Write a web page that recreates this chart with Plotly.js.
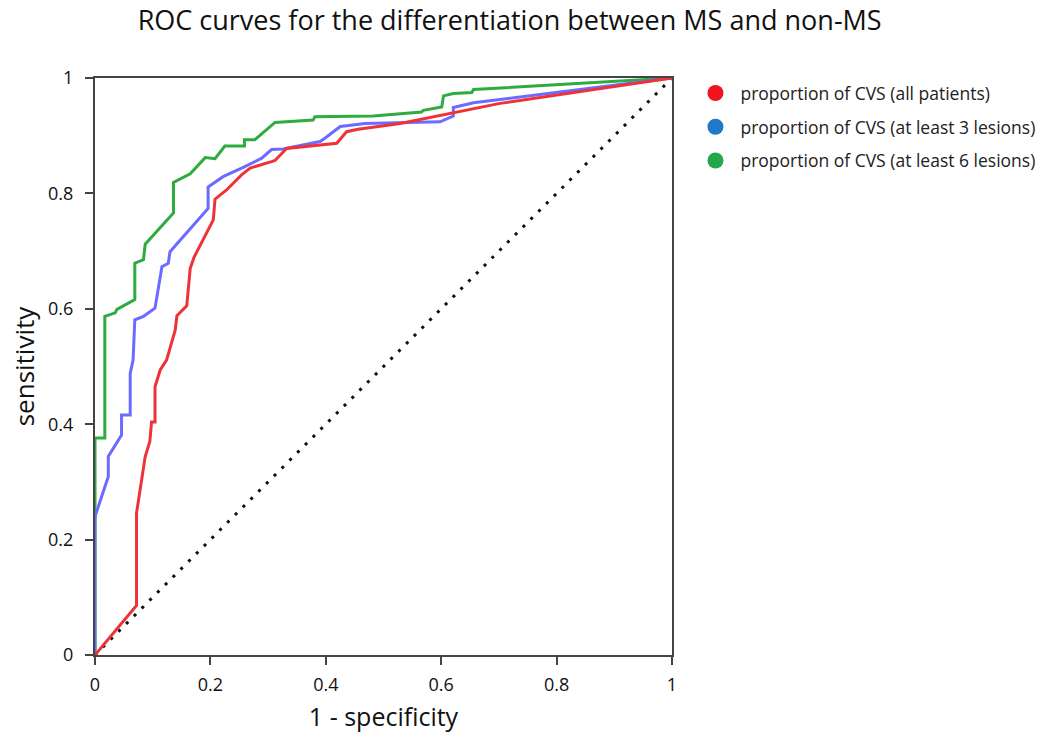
<!DOCTYPE html>
<html>
<head>
<meta charset="utf-8">
<script src="https://cdn.plot.ly/plotly-3.0.1.min.js"></script>
<style>html,body{margin:0;padding:0;background:#fff;}#chart{width:1053px;height:739px;}</style>
</head>
<body>
<div id="chart"></div>
<script>
// Series names (legend)
const seriesNames = [
  "proportion of CVS (all patients)",
  "proportion of CVS (at least 3 lesions)",
  "proportion of CVS (at least 6 lesions)"
];

// ROC curve: all patients (1 - specificity, sensitivity)
const fprAll = [0, 0.072, 0.072, 0.084, 0.087, 0.095, 0.098, 0.104, 0.104, 0.113, 0.124, 0.139, 0.142, 0.159, 0.165, 0.172, 0.205, 0.208, 0.228, 0.254, 0.269, 0.306, 0.312, 0.332, 0.419, 0.436, 0.456, 0.529, 0.600, 0.702, 1];
const tprAll = [0, 0.086, 0.246, 0.326, 0.344, 0.370, 0.404, 0.404, 0.465, 0.494, 0.511, 0.563, 0.588, 0.605, 0.670, 0.690, 0.754, 0.790, 0.806, 0.832, 0.844, 0.855, 0.857, 0.878, 0.887, 0.907, 0.911, 0.921, 0.935, 0.956, 1];

// ROC curve: at least 3 lesions
const fpr3 = [0, 0, 0.023, 0.023, 0.046, 0.046, 0.061, 0.061, 0.066, 0.069, 0.084, 0.104, 0.116, 0.127, 0.130, 0.196, 0.196, 0.222, 0.257, 0.289, 0.306, 0.326, 0.390, 0.399, 0.425, 0.468, 0.598, 0.621, 0.621, 0.656, 1];
const tpr3 = [0, 0.240, 0.309, 0.344, 0.381, 0.416, 0.416, 0.488, 0.511, 0.581, 0.587, 0.601, 0.673, 0.679, 0.699, 0.774, 0.811, 0.829, 0.845, 0.861, 0.876, 0.877, 0.890, 0.896, 0.916, 0.921, 0.924, 0.934, 0.949, 0.957, 1];

// ROC curve: at least 6 lesions
const fpr6 = [0, 0, 0.017, 0.017, 0.035, 0.038, 0.069, 0.069, 0.084, 0.087, 0.136, 0.136, 0.165, 0.191, 0.208, 0.225, 0.259, 0.259, 0.277, 0.312, 0.378, 0.381, 0.482, 0.566, 0.569, 0.601, 0.604, 0.621, 0.653, 0.656, 1];
const tpr6 = [0, 0.376, 0.376, 0.587, 0.593, 0.599, 0.616, 0.679, 0.685, 0.712, 0.766, 0.819, 0.834, 0.862, 0.860, 0.882, 0.882, 0.893, 0.893, 0.923, 0.927, 0.933, 0.934, 0.941, 0.944, 0.950, 0.969, 0.973, 0.975, 0.980, 1];

// Reference diagonal
const diagX = [0, 1];
const diagY = [0, 1];

// Axis ticks
const tickVals = [0, 0.2, 0.4, 0.6, 0.8, 1];
const tickText = ["0", "0.2", "0.4", "0.6", "0.8", "1"];

const lineColors = ["#ee3338", "#6b6bff", "#2fab3f"];
const legendColors = ["#f0141e", "#1f78c8", "#22a84a"];

const curves = [[fprAll, tprAll], [fpr3, tpr3], [fpr6, tpr6]];
const traces = [];
traces.push({x: diagX, y: diagY, mode: "lines", line: {color: "#111", width: 3, dash: "3px,8px"}, showlegend: false, hoverinfo: "skip"});
// draw order: green bottom, blue, red on top
[2, 1, 0].forEach(i => {
  traces.push({x: curves[i][0], y: curves[i][1], mode: "lines", line: {color: lineColors[i], width: 3}, showlegend: false, name: seriesNames[i]});
});
seriesNames.forEach((n, i) => {
  traces.push({x: [null], y: [null], mode: "markers", name: n, legendgroup: "g" + i, marker: {color: legendColors[i], size: 18}, showlegend: true});
});

const fontFam = "'Open Sans', 'Noto Sans', sans-serif";
const layout = {
  width: 1053, height: 739,
  paper_bgcolor: "#fff", plot_bgcolor: "#fff",
  margin: {l: 95, r: 381, t: 78, b: 84},
  title: {text: "ROC curves for the differentiation between MS and non-MS", font: {family: fontFam, size: 27, color: "#111"}, x: 0.484, xanchor: "center", y: 0.972, yanchor: "middle"},
  xaxis: {range: [0, 1], tickvals: tickVals, ticktext: tickText, showgrid: false, zeroline: false,
    showline: true, linecolor: "#444", linewidth: 2, mirror: true, ticks: "outside", ticklen: 8, tickwidth: 2, tickcolor: "#444",
    tickfont: {family: fontFam, size: 18, color: "#111"}, ticklabelstandoff: 4,
    title: {text: "1 - specificity", font: {family: fontFam, size: 25, color: "#111"}, standoff: 14}},
  yaxis: {range: [0, 1], tickvals: tickVals, ticktext: tickText, showgrid: false, zeroline: false,
    showline: true, linecolor: "#444", linewidth: 2, mirror: true, ticks: "outside", ticklen: 8, tickwidth: 2, tickcolor: "#444",
    tickfont: {family: fontFam, size: 18, color: "#111"}, ticklabelstandoff: 8,
    title: {text: "sensitivity", font: {family: fontFam, size: 26, color: "#111"}, standoff: 6}},
  legend: {x: 1.032, xanchor: "left", y: 1.005, yanchor: "top", font: {family: fontFam, size: 17.5, color: "#222"}, tracegroupgap: 8, itemwidth: 40, bgcolor: "rgba(0,0,0,0)"},
  showlegend: true
};

Plotly.newPlot("chart", traces, layout, {displayModeBar: false, staticPlot: true});
</script>
</body>
</html>
